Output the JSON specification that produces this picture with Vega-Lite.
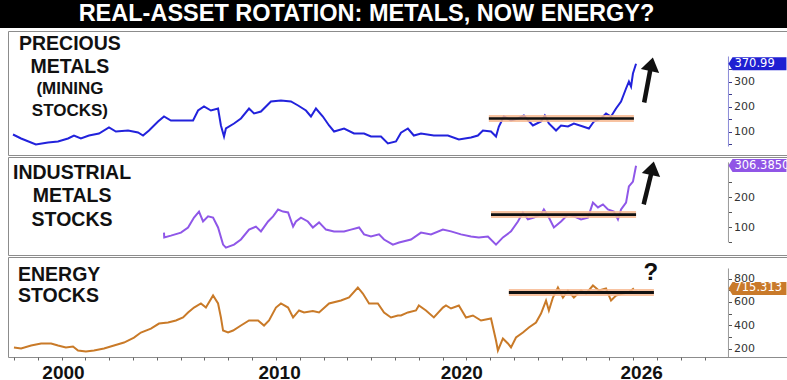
{
"$schema": "https://vega.github.io/schema/vega-lite/v6.json",
"padding": 0,
"spacing": 2,
"config": {"view": {"stroke": null}, "font": "Liberation Sans"},
"datasets": {
"pm": [
{"t":1999.96,"v":88},{"t":2000.30,"v":72},{"t":2000.92,"v":48},{"t":2001.43,"v":56},{"t":2001.85,"v":60},{"t":2002.27,"v":72},{"t":2002.52,"v":84},{"t":2002.81,"v":72},{"t":2003.15,"v":84},{"t":2003.57,"v":92},{"t":2003.99,"v":116},{"t":2004.28,"v":100},{"t":2004.79,"v":104},{"t":2005.21,"v":96},{"t":2005.42,"v":84},{"t":2005.67,"v":104},{"t":2006.05,"v":140},{"t":2006.30,"v":160},{"t":2006.59,"v":144},{"t":2007.01,"v":144},{"t":2007.52,"v":144},{"t":2007.73,"v":184},{"t":2007.98,"v":200},{"t":2008.27,"v":184},{"t":2008.57,"v":192},{"t":2008.69,"v":124},{"t":2008.82,"v":80},{"t":2008.90,"v":112},{"t":2009.24,"v":132},{"t":2009.53,"v":152},{"t":2009.87,"v":192},{"t":2010.08,"v":172},{"t":2010.37,"v":180},{"t":2010.79,"v":220},{"t":2011.21,"v":224},{"t":2011.63,"v":220},{"t":2011.93,"v":204},{"t":2012.26,"v":184},{"t":2012.47,"v":160},{"t":2012.68,"v":192},{"t":2012.97,"v":160},{"t":2013.23,"v":124},{"t":2013.44,"v":100},{"t":2013.86,"v":112},{"t":2014.28,"v":92},{"t":2014.70,"v":92},{"t":2014.99,"v":80},{"t":2015.41,"v":80},{"t":2015.70,"v":52},{"t":2016.04,"v":60},{"t":2016.25,"v":95},{"t":2016.54,"v":112},{"t":2016.79,"v":84},{"t":2017.09,"v":92},{"t":2017.63,"v":84},{"t":2018.22,"v":84},{"t":2018.68,"v":68},{"t":2019.19,"v":76},{"t":2019.48,"v":84},{"t":2019.69,"v":104},{"t":2020.03,"v":100},{"t":2020.24,"v":80},{"t":2020.36,"v":120},{"t":2020.57,"v":160},{"t":2020.87,"v":144},{"t":2021.16,"v":152},{"t":2021.41,"v":164},{"t":2021.79,"v":124},{"t":2022.13,"v":140},{"t":2022.29,"v":164},{"t":2022.46,"v":132},{"t":2022.76,"v":104},{"t":2022.97,"v":124},{"t":2023.26,"v":120},{"t":2023.51,"v":132},{"t":2023.89,"v":120},{"t":2024.14,"v":112},{"t":2024.35,"v":140},{"t":2024.65,"v":152},{"t":2024.86,"v":172},{"t":2025.07,"v":160},{"t":2025.28,"v":192},{"t":2025.49,"v":220},{"t":2025.70,"v":272},{"t":2025.82,"v":300},{"t":2025.91,"v":280},{"t":2025.99,"v":332},{"t":2026.12,"v":371}
],
"im": [
{"t":2006.30,"v":83},{"t":2006.31,"v":67},{"t":2006.59,"v":73},{"t":2007.01,"v":83},{"t":2007.31,"v":100},{"t":2007.56,"v":133},{"t":2007.77,"v":153},{"t":2007.94,"v":120},{"t":2008.15,"v":137},{"t":2008.36,"v":133},{"t":2008.57,"v":100},{"t":2008.78,"v":43},{"t":2008.90,"v":33},{"t":2009.24,"v":43},{"t":2009.53,"v":60},{"t":2009.87,"v":93},{"t":2010.16,"v":103},{"t":2010.37,"v":87},{"t":2010.67,"v":120},{"t":2010.88,"v":137},{"t":2011.09,"v":160},{"t":2011.30,"v":153},{"t":2011.51,"v":150},{"t":2011.72,"v":103},{"t":2011.84,"v":120},{"t":2012.05,"v":133},{"t":2012.34,"v":120},{"t":2012.55,"v":100},{"t":2012.81,"v":117},{"t":2013.10,"v":93},{"t":2013.44,"v":87},{"t":2013.86,"v":87},{"t":2014.15,"v":93},{"t":2014.49,"v":100},{"t":2014.70,"v":77},{"t":2014.99,"v":70},{"t":2015.33,"v":77},{"t":2015.54,"v":60},{"t":2015.91,"v":43},{"t":2016.17,"v":50},{"t":2016.67,"v":60},{"t":2017.09,"v":83},{"t":2017.51,"v":77},{"t":2018.01,"v":93},{"t":2018.35,"v":87},{"t":2018.77,"v":77},{"t":2019.19,"v":70},{"t":2019.52,"v":67},{"t":2019.90,"v":70},{"t":2020.24,"v":43},{"t":2020.53,"v":67},{"t":2020.87,"v":87},{"t":2021.16,"v":120},{"t":2021.37,"v":150},{"t":2021.58,"v":127},{"t":2021.83,"v":133},{"t":2022.13,"v":143},{"t":2022.25,"v":160},{"t":2022.46,"v":133},{"t":2022.67,"v":100},{"t":2022.97,"v":120},{"t":2023.26,"v":143},{"t":2023.51,"v":137},{"t":2023.81,"v":127},{"t":2024.10,"v":133},{"t":2024.31,"v":183},{"t":2024.52,"v":167},{"t":2024.73,"v":177},{"t":2024.94,"v":160},{"t":2025.19,"v":153},{"t":2025.36,"v":127},{"t":2025.49,"v":160},{"t":2025.70,"v":183},{"t":2025.82,"v":237},{"t":2025.99,"v":253},{"t":2026.12,"v":306}
],
"en": [
{"t":2000.00,"v":209},{"t":2000.30,"v":200},{"t":2000.72,"v":226},{"t":2001.14,"v":243},{"t":2001.56,"v":243},{"t":2001.85,"v":226},{"t":2002.18,"v":209},{"t":2002.48,"v":217},{"t":2002.69,"v":183},{"t":2003.02,"v":174},{"t":2003.36,"v":183},{"t":2003.78,"v":200},{"t":2004.20,"v":226},{"t":2004.62,"v":251},{"t":2005.04,"v":294},{"t":2005.33,"v":337},{"t":2005.75,"v":371},{"t":2006.09,"v":414},{"t":2006.47,"v":423},{"t":2006.80,"v":440},{"t":2007.10,"v":466},{"t":2007.31,"v":509},{"t":2007.56,"v":551},{"t":2007.85,"v":586},{"t":2008.06,"v":551},{"t":2008.36,"v":654},{"t":2008.57,"v":586},{"t":2008.69,"v":466},{"t":2008.78,"v":354},{"t":2008.99,"v":337},{"t":2009.20,"v":354},{"t":2009.53,"v":397},{"t":2009.87,"v":440},{"t":2010.25,"v":440},{"t":2010.50,"v":397},{"t":2010.71,"v":440},{"t":2011.00,"v":551},{"t":2011.21,"v":586},{"t":2011.51,"v":551},{"t":2011.72,"v":466},{"t":2011.97,"v":526},{"t":2012.18,"v":509},{"t":2012.55,"v":521},{"t":2012.81,"v":509},{"t":2013.23,"v":586},{"t":2013.73,"v":611},{"t":2014.07,"v":637},{"t":2014.44,"v":723},{"t":2014.65,"v":671},{"t":2014.91,"v":586},{"t":2015.28,"v":586},{"t":2015.54,"v":509},{"t":2015.83,"v":466},{"t":2016.12,"v":483},{"t":2016.25,"v":483},{"t":2016.54,"v":509},{"t":2016.88,"v":526},{"t":2017.00,"v":569},{"t":2017.30,"v":526},{"t":2017.63,"v":466},{"t":2018.01,"v":551},{"t":2018.14,"v":569},{"t":2018.35,"v":543},{"t":2018.68,"v":569},{"t":2018.98,"v":466},{"t":2019.27,"v":483},{"t":2019.61,"v":440},{"t":2020.03,"v":457},{"t":2020.24,"v":269},{"t":2020.32,"v":183},{"t":2020.53,"v":286},{"t":2020.74,"v":243},{"t":2020.87,"v":209},{"t":2021.08,"v":294},{"t":2021.37,"v":337},{"t":2021.62,"v":380},{"t":2021.92,"v":423},{"t":2022.13,"v":500},{"t":2022.34,"v":611},{"t":2022.46,"v":526},{"t":2022.63,"v":637},{"t":2022.84,"v":723},{"t":2023.05,"v":637},{"t":2023.26,"v":697},{"t":2023.51,"v":637},{"t":2023.81,"v":697},{"t":2024.02,"v":671},{"t":2024.31,"v":740},{"t":2024.56,"v":697},{"t":2024.86,"v":714},{"t":2025.07,"v":611},{"t":2025.28,"v":654},{"t":2025.57,"v":671},{"t":2025.78,"v":680},{"t":2025.91,"v":697},{"t":2026.03,"v":715}
]
},
"vconcat": [
{
"width": 787, "height": 28,
"view": {"fill": "black", "stroke": null},
"data": {"values": [{}]},
"mark": {"type": "text", "text": "REAL-ASSET ROTATION: METALS, NOW ENERGY?", "color": "white", "font": "Liberation Sans", "fontWeight": "bold", "fontSize": 23.5, "dx": -27, "baseline": "middle", "align": "center"}
},
{
"spacing": 0,
"hconcat": [
{"width": 7, "height": 1, "view": {"fill": "white", "stroke": null}, "data": {"values": []}, "mark": "point"},
{
"spacing": 0,
"vconcat": [
{
"width": 780, "height": 124,
"view": {"stroke": "#8c8c8c"},
"encoding": {
  "x": {"field": "t", "type": "quantitative", "scale": {"domain": [1999.75, 2032.5], "nice": false, "zero": false}, "axis": null},
  "y": {"field": "v", "type": "quantitative", "scale": {"domain": [6, 502], "nice": false, "zero": false},
   "axis": {"orient": "right", "offset": -59.5, "values": [50,100,150,200,250,300,350], "labelExpr": "datum.value % 100 == 0 ? datum.label : ''", "tickSize": 3, "tickColor": "#3a3a8a", "labelColor": "#333", "labelFont": "DejaVu Sans", "labelFontSize": 11, "labelPadding": 2, "domain": false, "grid": false, "title": null, "labelOverlap": false, "labelFlush": false, "labelBound": false}}},
"layer": [
{"data": {"name": "pm"}, "mark": {"type": "line", "color": "#2222dc", "strokeWidth": 2}},
{"data": {"values": [{"t": 2030, "v": 40, "v2": 400}]}, "mark": {"type": "rule", "color": "#8a8ad8", "strokeWidth": 1}, "encoding": {"y2": {"field": "v2"}}},
{"data": {"values": [{"t": 2019.94, "t2": 2026.03, "v": 152}]}, "mark": {"type": "rule", "color": "#f7b890", "strokeWidth": 7, "opacity": 0.85}, "encoding": {"x2": {"field": "t2"}}},
{"data": {"values": [{"t": 2019.94, "t2": 2026.03, "v": 152}]}, "mark": {"type": "rule", "color": "#111", "strokeWidth": 2.6}, "encoding": {"x2": {"field": "t2"}}},
{"data": {"values": [{"t": 2026.46, "t2": 2026.73, "v": 216, "v2": 353}]}, "mark": {"type": "rule", "color": "#111", "strokeWidth": 4.5}, "encoding": {"x2": {"field": "t2"}, "y2": {"field": "v2"}}},
{"data": {"values": [{"t": 2026.73, "v": 353}]}, "mark": {"type": "point", "shape": "M0,-1L0.85,0.25L-0.85,0.25Z", "size": 484, "filled": true, "color": "#111", "opacity": 1, "angle": 12}},
{"data": {"values": [{"t": 2002.35, "v": 452}]}, "mark": {"type": "text", "text": ["PRECIOUS", "METALS"], "font": "Liberation Sans", "fontWeight": "bold", "fontSize": 19.5, "lineHeight": 23, "align": "center", "baseline": "middle", "color": "#111"}},
{"data": {"values": [{"t": 2002.35, "v": 272}]}, "mark": {"type": "text", "text": ["(MINING", "STOCKS)"], "font": "Liberation Sans", "fontWeight": "bold", "fontSize": 17, "lineHeight": 22, "align": "center", "baseline": "middle", "color": "#111"}},
{"data": {"values": [{"t": 2030, "v": 370.99}]}, "mark": {"type": "point", "shape": "M0,0L0.14,-0.224L2,-0.224L2,0.224L0.14,0.224Z", "size": 3364, "filled": true, "color": "#1f1fd2", "opacity": 1}},
{"data": {"values": [{"t": 2030, "v": 370.99}]}, "mark": {"type": "text", "text": "370.99", "align": "left", "baseline": "middle", "dx": 6, "color": "white", "font": "DejaVu Sans", "fontSize": 11.5}}
]
},
{
"width": 780, "height": 98,
"view": {"stroke": "#8c8c8c"},
"encoding": {
  "x": {"field": "t", "type": "quantitative", "scale": {"domain": [1999.75, 2032.5], "nice": false, "zero": false}, "axis": null},
  "y": {"field": "v", "type": "quantitative", "scale": {"domain": [8.3, 335], "nice": false, "zero": false},
   "axis": {"orient": "right", "offset": -59.5, "values": [50,100,150,200,250], "labelExpr": "datum.value % 100 == 0 ? datum.label : ''", "tickSize": 3, "tickColor": "#555", "labelColor": "#333", "labelFont": "DejaVu Sans", "labelFontSize": 11, "labelPadding": 2, "domain": false, "grid": false, "title": null, "labelOverlap": false, "labelFlush": false, "labelBound": false}}},
"layer": [
{"data": {"name": "im"}, "mark": {"type": "line", "color": "#8f57e8", "strokeWidth": 2}},
{"data": {"values": [{"t": 2030, "v": 50, "v2": 317}]}, "mark": {"type": "rule", "color": "#999", "strokeWidth": 1}, "encoding": {"y2": {"field": "v2"}}},
{"data": {"values": [{"t": 2020.03, "t2": 2026.12, "v": 143}]}, "mark": {"type": "rule", "color": "#f7b890", "strokeWidth": 7, "opacity": 0.85}, "encoding": {"x2": {"field": "t2"}}},
{"data": {"values": [{"t": 2020.03, "t2": 2026.12, "v": 143}]}, "mark": {"type": "rule", "color": "#111", "strokeWidth": 2.6}, "encoding": {"x2": {"field": "t2"}}},
{"data": {"values": [{"t": 2026.44, "t2": 2026.77, "v": 177, "v2": 284}]}, "mark": {"type": "rule", "color": "#111", "strokeWidth": 4.5}, "encoding": {"x2": {"field": "t2"}, "y2": {"field": "v2"}}},
{"data": {"values": [{"t": 2026.77, "v": 284}]}, "mark": {"type": "point", "shape": "M0,-1L0.85,0.25L-0.85,0.25Z", "size": 484, "filled": true, "color": "#111", "opacity": 1, "angle": 12}},
{"data": {"values": [{"t": 2002.44, "v": 283}]}, "mark": {"type": "text", "text": ["INDUSTRIAL", "METALS", "STOCKS"], "font": "Liberation Sans", "fontWeight": "bold", "fontSize": 19.5, "lineHeight": 23.5, "align": "center", "baseline": "middle", "color": "#111"}},
{"data": {"values": [{"t": 2030, "v": 306.385}]}, "mark": {"type": "point", "shape": "M0,0L0.14,-0.224L2,-0.224L2,0.224L0.14,0.224Z", "size": 3364, "filled": true, "color": "#9055e6", "opacity": 1}},
{"data": {"values": [{"t": 2030, "v": 306.385}]}, "mark": {"type": "text", "text": "306.3850", "align": "left", "baseline": "middle", "dx": 6, "color": "white", "font": "DejaVu Sans", "fontSize": 11.5}}
]
},
{
"width": 780, "height": 100,
"view": {"stroke": "#8c8c8c"},
"encoding": {
  "x": {"field": "t", "type": "quantitative", "scale": {"domain": [1999.75, 2032.5], "nice": false, "zero": false},
   "axis": {"orient": "bottom", "values": [2000,2001,2002,2003,2004,2005,2006,2007,2008,2009,2010,2011,2012,2013,2014,2015,2016,2017,2018,2019,2020,2021,2022,2023,2024,2025,2026,2027,2028,2029], "format": "d", "labelExpr": "(datum.value == 2000 || datum.value == 2010 || datum.value == 2020 || datum.value == 2026) ? datum.label : ''", "labelOffset": {"condition": [{"test": "datum.value == 2000", "value": 49}, {"test": "datum.value == 2010", "value": 27}, {"test": "datum.value == 2020", "value": -29}], "value": 8}, "tickSize": 3, "tickColor": "#666", "domain": false, "grid": false, "title": null, "labelFont": "Liberation Sans", "labelFontWeight": "bold", "labelFontSize": 19, "labelColor": "#111", "labelPadding": 3, "labelOverlap": false, "labelFlush": false, "labelBound": false}},
  "y": {"field": "v", "type": "quantitative", "scale": {"domain": [127.2, 984.3], "nice": false, "zero": false},
   "axis": {"orient": "right", "offset": -59.5, "values": [200,300,400,500,600,700,800], "labelExpr": "datum.value % 200 == 0 ? datum.label : ''", "tickSize": 3, "tickColor": "#555", "labelColor": "#333", "labelFont": "DejaVu Sans", "labelFontSize": 11, "labelPadding": 2, "domain": false, "grid": false, "title": null, "labelOverlap": false, "labelFlush": false, "labelBound": false}}},
"layer": [
{"data": {"name": "en"}, "mark": {"type": "line", "color": "#c97a28", "strokeWidth": 2}},
{"data": {"values": [{"t": 2030, "v": 127.2, "v2": 886}]}, "mark": {"type": "rule", "color": "#999", "strokeWidth": 1}, "encoding": {"y2": {"field": "v2"}}},
{"data": {"values": [{"t": 2020.78, "t2": 2026.87, "v": 680}]}, "mark": {"type": "rule", "color": "#f7b890", "strokeWidth": 7, "opacity": 0.85}, "encoding": {"x2": {"field": "t2"}}},
{"data": {"values": [{"t": 2020.78, "t2": 2026.87, "v": 680}]}, "mark": {"type": "rule", "color": "#111", "strokeWidth": 3}, "encoding": {"x2": {"field": "t2"}}},
{"data": {"values": [{"t": 2026.74, "v": 843}]}, "mark": {"type": "text", "text": "?", "font": "Liberation Sans", "fontWeight": "bold", "fontSize": 24, "align": "center", "baseline": "middle", "color": "#111"}},
{"data": {"values": [{"t": 2000.17, "v": 834}]}, "mark": {"type": "text", "text": ["ENERGY", "STOCKS"], "font": "Liberation Sans", "fontWeight": "bold", "fontSize": 19.5, "lineHeight": 21, "align": "left", "baseline": "middle", "color": "#111"}},
{"data": {"values": [{"t": 2030, "v": 715.313}]}, "mark": {"type": "point", "shape": "M0,0L0.14,-0.224L2,-0.224L2,0.224L0.14,0.224Z", "size": 3364, "filled": true, "color": "#c97a2a", "opacity": 1}},
{"data": {"values": [{"t": 2030, "v": 715.313}]}, "mark": {"type": "text", "text": "715.313", "align": "left", "baseline": "middle", "dx": 6, "color": "white", "font": "DejaVu Sans", "fontSize": 11.5}}
]
}
]
}
]
}
]
}
